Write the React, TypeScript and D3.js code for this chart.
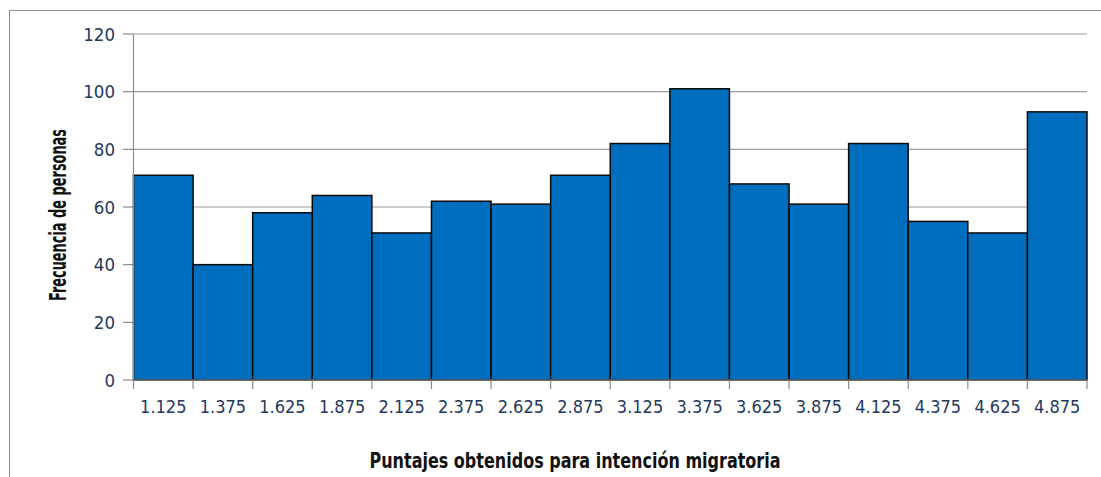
import React from "react";
import * as d3 from "d3";

const binCenters = [1.125, 1.375, 1.625, 1.875, 2.125, 2.375, 2.625, 2.875, 3.125, 3.375, 3.625, 3.875, 4.125, 4.375, 4.625, 4.875];
const counts = [71, 40, 58, 64, 51, 62, 61, 71, 82, 101, 68, 61, 82, 55, 51, 93];
const yTicks = [0, 20, 40, 60, 80, 100, 120];
const binWidth = 0.25;

const W = 1101, H = 477;
const m = { left: 133.5, right: 1087, top: 34, bottom: 380 };
const FONT = "'DejaVu Sans', sans-serif";

export default function App() {
  const x = d3.scaleLinear().domain([1, 5]).range([m.left, m.right]);
  const y = d3.scaleLinear().domain([0, 120]).range([m.bottom, m.top]);
  const edges = d3.range(0, binCenters.length + 1).map((i) => 1 + i * binWidth);
  return (
    <svg width={W} height={H} style={{ position: "absolute", left: 0, top: 0, background: "#fff" }}>
      <rect x={9.5} y={10.5} width={W + 10} height={H + 10} fill="none" stroke="#8c8c8c" strokeWidth={1} />
      {yTicks.map((t) => (
        <g key={t}>
          {t > 0 && <line x1={m.left} x2={m.right} y1={y(t)} y2={y(t)} stroke="#9a9a9a" strokeWidth={1.2} />}
          <line x1={123} x2={m.left} y1={y(t)} y2={y(t)} stroke="#8c8c8c" strokeWidth={1.2} />
          <text x={115} y={y(t)} dy="0.36em" textAnchor="end" fontFamily={FONT} fontSize={18.5} fill="#23385e" style={{ fontStretch: "condensed" }}>{t}</text>
        </g>
      ))}
      {binCenters.map((c, i) => (
        <rect key={c} x={x(c - binWidth / 2)} y={y(counts[i])} width={x(c + binWidth / 2) - x(c - binWidth / 2)} height={y(0) - y(counts[i])} fill="#006ebf" stroke="#0a0a0a" strokeWidth={1.5} />
      ))}
      <line x1={m.left} x2={m.left} y1={m.top} y2={m.bottom} stroke="#8c8c8c" strokeWidth={1.2} />
      <line x1={m.left} x2={m.right} y1={m.bottom} y2={m.bottom} stroke="#8c8c8c" strokeWidth={1.2} />
      {edges.map((e) => (
        <line key={e} x1={x(e)} x2={x(e)} y1={m.bottom} y2={m.bottom + 9} stroke="#8c8c8c" strokeWidth={1.2} />
      ))}
      {binCenters.map((c) => (
        <text key={c} x={x(c)} y={407} dy="0.36em" textAnchor="middle" fontFamily={FONT} fontSize={18} fill="#23385e" style={{ fontStretch: "condensed" }}>{c.toFixed(3)}</text>
      ))}
      <text x={575} y={460} dy="0.36em" textAnchor="middle" fontFamily={FONT} fontWeight="bold" fontSize={21} fill="#111" textLength={411} lengthAdjust="spacingAndGlyphs" style={{ fontStretch: "condensed" }}>Puntajes obtenidos para intención migratoria</text>
      <text transform={`translate(58,215) rotate(-90)`} dy="0.36em" textAnchor="middle" fontFamily={FONT} fontWeight="bold" fontSize={23} fill="#111" textLength={172} lengthAdjust="spacingAndGlyphs" style={{ fontStretch: "condensed" }}>Frecuencia de personas</text>
    </svg>
  );
}
